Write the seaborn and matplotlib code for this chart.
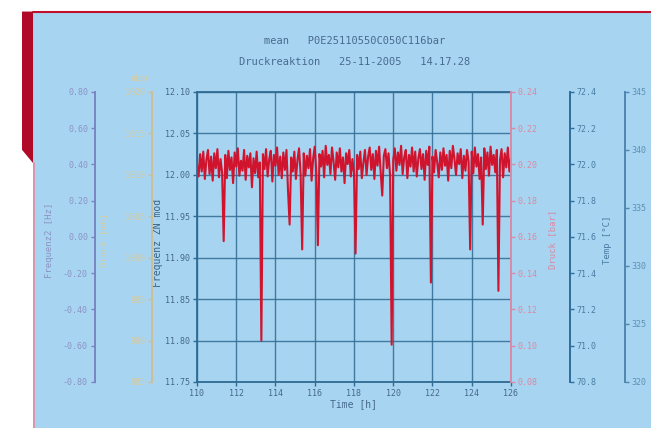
import numpy as np
import pandas as pd
import seaborn as sns
import matplotlib.pyplot as plt
from matplotlib.patches import Rectangle, Polygon
from matplotlib.lines import Line2D

# Frequency signal, one sample every ~0.08 h between 110 and 126 h
SIGNAL = [
    12.012, 11.998, 12.025, 12.004, 12.028, 11.995, 12.018, 12.030, 12.001, 12.022,
    11.993, 12.026, 12.008, 12.031, 11.997, 12.019, 12.003, 11.920, 12.024, 11.996,
    12.029, 12.006, 12.021, 11.990, 12.027, 12.010, 12.032, 11.999, 12.017, 12.005,
    12.030, 11.994, 12.023, 12.009, 12.026, 11.985, 12.020, 12.002, 12.028, 11.997,
    12.015, 11.800, 12.025, 12.007, 12.031, 11.998, 12.019, 12.029, 11.992, 12.024,
    12.011, 12.033, 12.000, 12.022, 11.996, 12.027, 12.006, 12.030, 11.980, 11.940,
    12.021, 12.004, 12.028, 11.995, 12.018, 12.032, 12.001, 11.910, 12.026, 11.999,
    12.023, 12.008, 12.031, 11.993, 12.020, 12.034, 12.003, 11.915, 12.025, 12.010,
    12.029, 11.997, 12.035, 12.012, 12.024, 12.001, 12.033, 12.016, 11.994, 12.027,
    12.009, 12.032, 12.004, 12.021, 11.990, 12.026, 12.013, 12.030, 11.998, 12.019,
    12.002, 11.905, 12.024, 12.007, 12.028, 11.996, 12.015, 12.030, 12.000, 12.022,
    12.033, 12.006, 12.025, 11.995, 12.029, 12.011, 12.034, 12.003, 11.975, 12.023,
    12.031, 12.008, 12.026, 11.999, 11.795, 12.018, 12.032, 12.005, 12.027, 12.012,
    12.035, 12.001, 12.021, 12.030, 11.996, 12.024, 12.010, 12.033, 12.004, 12.028,
    11.998, 12.020, 12.031, 12.007, 12.025, 11.994, 12.029, 12.012, 12.034, 11.870,
    12.022, 12.003, 12.030, 12.015, 11.997, 12.027, 12.006, 12.032, 12.011, 12.024,
    11.993, 12.029, 12.008, 12.035, 12.019, 12.000, 12.026, 12.013, 12.031, 11.996,
    12.023, 12.005, 12.030, 12.016, 11.910, 12.028, 12.002, 12.033, 12.010, 12.025,
    11.995, 12.021, 11.940, 12.032, 12.007, 12.027, 11.999, 12.034, 12.012, 12.024,
    12.003, 12.030, 11.860, 12.018, 12.031, 11.997, 12.026, 12.009, 12.033, 12.004,
    12.020,
]
TIME_START, TIME_END = 110, 126
TIME_TICKS = [110, 112, 114, 116, 118, 120, 122, 124, 126]
FREQ_TICKS = [11.75, 11.80, 11.85, 11.90, 11.95, 12.00, 12.05, 12.10]

FREQ2_TICKS = [-0.80, -0.60, -0.40, -0.20, 0.00, 0.20, 0.40, 0.60, 0.80]
MBAR_TICKS = [985, 990, 995, 1000, 1005, 1010, 1015, 1020]
BAR_TICKS = [0.08, 0.10, 0.12, 0.14, 0.16, 0.18, 0.20, 0.22, 0.24]
TEMP_TICKS = [70.8, 71.0, 71.2, 71.4, 71.6, 71.8, 72.0, 72.2, 72.4]
LAST_TICKS = [320, 325, 330, 335, 340, 345]

sns.set_theme(style="white")
plt.rcParams["font.family"] = ["DejaVu Sans Mono", "DejaVu Sans"]

fig = plt.figure(figsize=(6.51, 4.28), dpi=100)
fig.patch.set_facecolor("white")

# light blue panel with the red frame pieces of the photo
fig.patches.append(Rectangle((0.0507, 0), 1, 0.970, transform=fig.transFigure,
                             facecolor="#a7d4f0", edgecolor="none", zorder=-10))
fig.lines.append(Line2D([0.0507, 1], [0.971, 0.971], transform=fig.transFigure,
                        color="#c0102e", lw=1.5, zorder=-9))
fig.patches.append(Polygon([(0.0338, 0.973), (0.0507, 0.973), (0.0507, 0.619), (0.0338, 0.650)],
                           closed=True, transform=fig.transFigure,
                           facecolor="#b00a28", edgecolor="none", zorder=-9))
fig.lines.append(Line2D([0.0515, 0.0515], [0, 0.62], transform=fig.transFigure,
                        color="#e08aa0", lw=1.2, zorder=-9))

ax = fig.add_axes([0.3026, 0.1075, 0.4823, 0.6776])
ax.set_facecolor("none")

df = pd.DataFrame({"time": np.linspace(TIME_START, TIME_END, len(SIGNAL)), "freq": SIGNAL})
sns.lineplot(data=df, x="time", y="freq", ax=ax, color="#d0142e", linewidth=1.5)

main_col = "#2f6a92"
ax.set_xlim(TIME_START, TIME_END)
ax.set_ylim(FREQ_TICKS[0], FREQ_TICKS[-1])
ax.set_xticks(TIME_TICKS)
ax.set_xticklabels([str(t) for t in TIME_TICKS])
ax.set_yticks(FREQ_TICKS)
ax.set_yticklabels([f"{v:.2f}" for v in FREQ_TICKS])
ax.grid(True, color=main_col, linewidth=1.0, alpha=0.85)
ax.tick_params(axis="both", colors=main_col, labelcolor="#46688a", labelsize=6,
               length=3, width=1, direction="out", left=True, bottom=True, pad=2)
for s in ["left", "bottom", "top"]:
    ax.spines[s].set_color(main_col)
    ax.spines[s].set_linewidth(1.3)
ax.spines["right"].set_visible(False)
ax.set_xlabel("Time [h]", fontsize=7, color="#46688a", labelpad=1)
ax.set_ylabel("Frequenz ZN mod", fontsize=7, color="#3a6488")
ax.yaxis.set_label_coords(-0.108, 0.48)


def extra_axis(side, pos, ticks, labels, spine_col, text_col, label=None, label_x=None):
    tw = ax.twinx()
    tw.set_facecolor("none")
    tw.grid(False)
    tw.set_ylim(ticks[0], ticks[-1])
    tw.set_yticks(ticks)
    tw.set_yticklabels(labels)
    other = "right" if side == "left" else "left"
    for s in ["top", "bottom", other]:
        tw.spines[s].set_visible(False)
    tw.spines[side].set_visible(True)
    tw.spines[side].set_position(("axes", pos))
    tw.spines[side].set_color(spine_col)
    tw.spines[side].set_linewidth(1.4)
    if side == "left":
        tw.yaxis.tick_left()
        tw.yaxis.set_label_position("left")
    else:
        tw.yaxis.tick_right()
        tw.yaxis.set_label_position("right")
    tw.tick_params(axis="y", colors=spine_col, labelcolor=text_col, labelsize=6,
                   length=3, width=1, direction="out", pad=2)
    if label:
        tw.set_ylabel(label, fontsize=6.5, color=text_col)
        tw.yaxis.set_label_coords(label_x, 0.49)
    return tw


extra_axis("left", -0.325, FREQ2_TICKS, [f"{v:.2f}" for v in FREQ2_TICKS],
           "#7a84c2", "#8c93c4", "Frequenz2 [Hz]", -0.455)
tan = extra_axis("left", -0.143, MBAR_TICKS, [str(v) for v in MBAR_TICKS],
                 "#cdbf98", "#d8cb9c", "Druck [mb]", -0.283)
tan.text(-0.18, 1.03, "mbar", transform=ax.transAxes, fontsize=5.5,
         color="#d8cb9c", ha="center", va="bottom")
extra_axis("right", 1.0, BAR_TICKS, [f"{v:.2f}" for v in BAR_TICKS],
           "#d98aa8", "#d98aa3", "Druck [bar]", 1.118)
extra_axis("right", 1.188, TEMP_TICKS, [f"{v:.1f}" for v in TEMP_TICKS],
           "#2f6d9a", "#4a7ca2", "Temp [°C]", 1.293)
extra_axis("right", 1.363, LAST_TICKS, [str(v) for v in LAST_TICKS],
           "#4f86b0", "#5d8fb6")

fig.text(0.545, 0.904, "mean   P0E25110550C050C116bar", ha="center", va="center",
         fontsize=7.5, color="#4a6a90")
fig.text(0.545, 0.855, "Druckreaktion   25-11-2005   14.17.28", ha="center", va="center",
         fontsize=7.5, color="#4a6a90")

fig.savefig("out.png", dpi=100)
